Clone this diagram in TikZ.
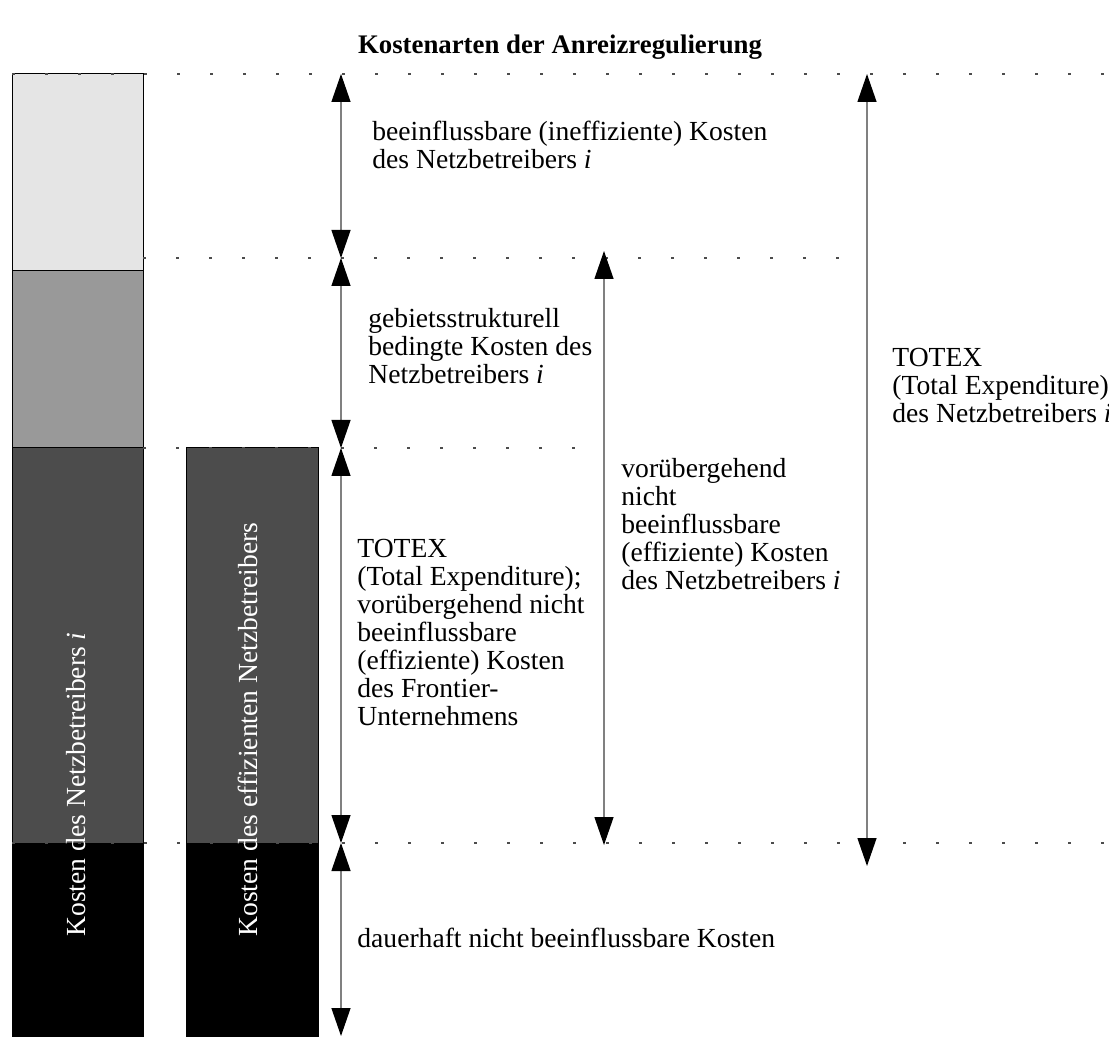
\documentclass[tikz,border=0pt]{standalone}
\usepackage{fontspec}
\setmainfont{Liberation Serif}
\usetikzlibrary{arrows.meta}
\newcommand\txtblock[1]{\vtop{\halign{##\hfil\cr#1\crcr}}}
\begin{document}
\begin{tikzpicture}[x=0.5pt,y=-0.5pt,
  dim/.style={draw=black!50, line width=0.65pt, {Triangle[width=9.5pt,length=14pt,color=black]}-{Triangle[width=9.5pt,length=14pt,color=black]}},
  guide/.style={draw=black!70, line width=0.7pt, dash pattern=on 1.5pt off 15pt},
  barpart/.style={draw=black, line width=0.5pt},
  lbl/.style={anchor=base west, inner sep=0pt, font=\fontsize{13.8}{14}\selectfont},
  vlbl/.style={anchor=base west, rotate=90, inner sep=0pt, text=white, font=\fontsize{13.8}{14}\selectfont}]
\useasboundingbox (0,0) rectangle (1109,1037);
\clip (0,0) rectangle (1109,1037);
% bars
\filldraw[barpart, fill=black!10] (12,74) rectangle (143,271);
\filldraw[barpart, fill=black!40] (12,271) rectangle (143,448);
\filldraw[barpart, fill=black!70] (12,448) rectangle (143,843);
\filldraw[barpart, fill=black] (12,843) rectangle (143,1040);
\filldraw[barpart, fill=black!70] (186,448) rectangle (318,843);
\filldraw[barpart, fill=black] (186,843) rectangle (318,1040);
% guide lines
\draw[guide] (12,74) -- (1109,74);
\draw[guide] (143,258) -- (845,258);
\draw[guide] (143,448) -- (582,448);
\draw[guide] (12,843) -- (1109,843);
% dimension arrows
\coordinate (a0) at (341,74);
\coordinate (a1) at (341,258);
\coordinate (a2) at (341,448);
\coordinate (a3) at (341,843);
\coordinate (a4) at (341,1036);
\coordinate (b0) at (604,251);
\coordinate (b1) at (604,845);
\coordinate (c0) at (867,74);
\coordinate (c1) at (867,866);
\draw[dim] (a0) -- (a1);
\draw[dim] (a1) -- (a2);
\draw[dim] (a2) -- (a3);
\draw[dim] (a3) -- (a4);
\draw[dim] (b0) -- (b1);
\draw[dim] (c0) -- (c1);
% title
\node[anchor=base, inner sep=0pt, font=\fontsize{13.4}{15}\selectfont\bfseries] (title) at (560,54) {Kostenarten der Anreizregulierung};
% labels
\node[lbl] (t1) at (372,141) {\txtblock{beeinflussbare (ineffiziente) Kosten\cr des Netzbetreibers \textit{i}}};
\node[lbl] (t2) at (368,328) {\txtblock{gebietsstrukturell\cr bedingte Kosten des\cr Netzbetreibers \textit{i}}};
\node[lbl] (t3) at (357,558) {\txtblock{TOTEX\cr (Total Expenditure);\cr vorübergehend nicht\cr beeinflussbare\cr (effiziente) Kosten\cr des Frontier-\cr Unternehmens}};
\node[lbl] (t4) at (621,478) {\txtblock{vorübergehend\cr nicht\cr beeinflussbare\cr (effiziente) Kosten\cr des Netzbetreibers \textit{i}}};
\node[lbl] (t5) at (892,367) {\txtblock{TOTEX\cr (Total Expenditure)\cr des Netzbetreibers \textit{i}}};
\node[lbl] (t6) at (357,947) {dauerhaft nicht beeinflussbare Kosten};
% rotated labels
\node[vlbl] (v1) at (85,937) {Kosten des Netzbetreibers \textit{i}};
\node[vlbl] (v2) at (257,937) {Kosten des effizienten Netzbetreibers};
\end{tikzpicture}
\end{document}
